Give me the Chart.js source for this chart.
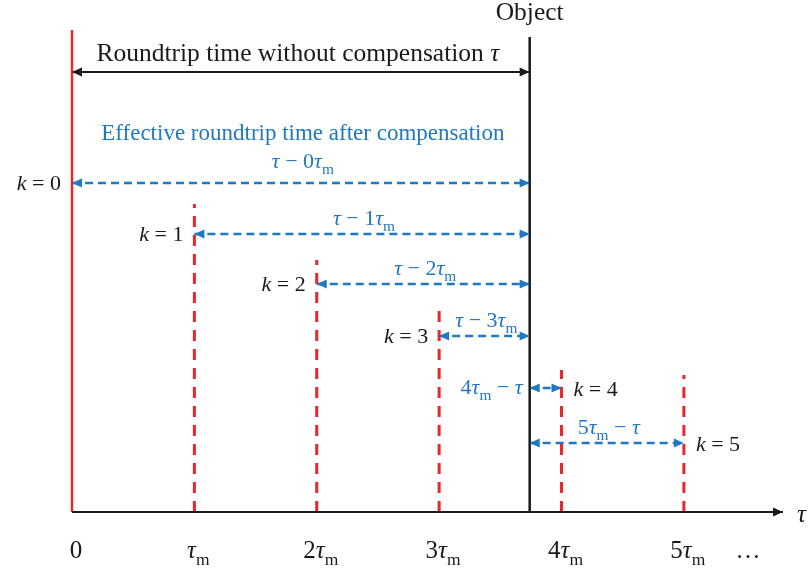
<!DOCTYPE html>
<html>
<head>
<meta charset="utf-8">
<script src="https://cdn.jsdelivr.net/npm/chart.js@4.4.0/dist/chart.umd.min.js"></script>
<style>
  html, body { margin: 0; padding: 0; background: #fff; }
  #wrap { width: 809px; height: 571px; position: relative; }
</style>
</head>
<body>
<div id="wrap"><canvas id="diagram"></canvas></div>
<script>
// time axis in units of tau_m, heights in arbitrary units above the axis
const shiftK = [0, 1, 2, 3, 4, 5];
const tauObject = 3.74;                       // roundtrip time tau / tau_m
const markerTops = [482, 308, 252, 207, 142, 137];
const arrowRows = [329, 278, 228, 176, 124, 69];
const arrowLabels = ['τ − 0τm', 'τ − 1τm', 'τ − 2τm', 'τ − 3τm', '4τm − τ', '5τm − τ'];
const kLabels = ['k = 0', 'k = 1', 'k = 2', 'k = 3', 'k = 4', 'k = 5'];
const tickValues = [0, 1, 2, 3, 4, 5];
const tickLabels = ['0', 'τm', '2τm', '3τm', '4τm', '5τm'];
const objectTop = 475;
const plainRow = 440;
const axisEnd = 5.81;

const RED = '#e8262c';
const BLUE = '#1f78c1';
const INK = '#1a1a1a';
const SERIF = "'Liberation Serif', 'Times New Roman', serif";

const datasets = [];

// time axis
datasets.push({ data: [{ x: 0, y: 0 }, { x: axisEnd, y: 0 }], borderColor: INK, borderWidth: 2.2, heads: 'end', headColor: INK });

// k = 0 reference (solid) and shifted markers (dashed)
shiftK.forEach((k, i) => {
  datasets.push({
    data: [{ x: k, y: 0 }, { x: k, y: markerTops[i] }],
    borderColor: RED, borderWidth: k === 0 ? 2.5 : 3,
    borderDash: k === 0 ? [] : [11, 8]
  });
});

// object position
datasets.push({ data: [{ x: tauObject, y: 0 }, { x: tauObject, y: objectTop }], borderColor: INK, borderWidth: 2.5 });

// roundtrip without compensation
datasets.push({ data: [{ x: 0, y: plainRow }, { x: tauObject, y: plainRow }], borderColor: INK, borderWidth: 2, heads: 'both', headColor: INK });

// effective roundtrip for each k
shiftK.forEach((k, i) => {
  datasets.push({
    data: [{ x: Math.min(k, tauObject), y: arrowRows[i] }, { x: Math.max(k, tauObject), y: arrowRows[i] }],
    borderColor: BLUE, borderWidth: 2.6, borderDash: [8, 5], heads: 'both', headColor: BLUE
  });
});

datasets.forEach(ds => {
  ds.showLine = true;
  ds.pointRadius = 0;
  ds.clip = false;
  ds.fill = false;
});

// draw text where tau and k are italic and m after tau is a subscript
function richRuns(str) {
  const runs = [];
  for (let i = 0; i < str.length; i++) {
    const c = str[i];
    let kind = 'n';
    if (c === 'τ' || c === 'k') kind = 'i';
    else if (c === 'm' && str[i - 1] === 'τ') kind = 's';
    const last = runs[runs.length - 1];
    if (last && last.kind === kind) last.text += c;
    else runs.push({ text: c, kind });
  }
  return runs;
}

function runFont(kind, size) {
  if (kind === 'i') return `italic ${size}px ${SERIF}`;
  if (kind === 's') return `${(size * 0.7).toFixed(1)}px ${SERIF}`;
  return `${size}px ${SERIF}`;
}

function drawRich(ctx, str, x, y, size, color, align) {
  const runs = richRuns(str);
  let total = 0;
  runs.forEach(r => { ctx.font = runFont(r.kind, size); r.w = ctx.measureText(r.text).width; total += r.w; });
  let cx = align === 'right' ? x - total : align === 'center' ? x - total / 2 : x;
  ctx.fillStyle = color;
  ctx.textBaseline = 'alphabetic';
  ctx.textAlign = 'left';
  runs.forEach(r => {
    ctx.font = runFont(r.kind, size);
    ctx.fillText(r.text, cx, r.kind === 's' ? y + size * 0.26 : y);
    cx += r.w;
  });
}

function arrowHead(ctx, tipX, tipY, dir, color) {
  ctx.save();
  ctx.fillStyle = color;
  ctx.beginPath();
  ctx.moveTo(tipX, tipY);
  ctx.lineTo(tipX - dir * 10, tipY - 4.5);
  ctx.lineTo(tipX - dir * 10, tipY + 4.5);
  ctx.closePath();
  ctx.fill();
  ctx.restore();
}

const diagramText = {
  id: 'diagramText',
  afterDatasetsDraw(chart) {
    const { ctx, scales: { x, y } } = chart;
    ctx.save();

    chart.data.datasets.forEach(ds => {
      if (!ds.heads) return;
      const a = ds.data[0], b = ds.data[1];
      const ax = x.getPixelForValue(a.x), bx = x.getPixelForValue(b.x);
      const py = y.getPixelForValue(a.y);
      arrowHead(ctx, bx, py, 1, ds.headColor);
      if (ds.heads === 'both') arrowHead(ctx, ax, py, -1, ds.headColor);
    });

    const objX = x.getPixelForValue(tauObject);
    const x0 = x.getPixelForValue(0);
    drawRich(ctx, 'Object', objX, y.getPixelForValue(objectTop) - 17, 25.5, INK, 'center');
    drawRich(ctx, 'Roundtrip time without compensation τ', (x0 + objX) / 2 - 3, y.getPixelForValue(plainRow) - 11, 25.5, INK, 'center');
    drawRich(ctx, 'Effective roundtrip time after compensation', (x0 + objX) / 2 + 2, y.getPixelForValue(arrowRows[0]) - 43, 23, BLUE, 'center');

    shiftK.forEach((k, i) => {
      const kx = x.getPixelForValue(k);
      const ry = y.getPixelForValue(arrowRows[i]);
      const lo = x.getPixelForValue(Math.min(k, tauObject));
      const hi = x.getPixelForValue(Math.max(k, tauObject));
      if (k < tauObject) {
        drawRich(ctx, kLabels[i], kx - 11, ry + 7, 22, INK, 'right');
      } else {
        drawRich(ctx, kLabels[i], kx + 12, ry + 8, 22, INK, 'left');
      }
      if (hi - lo < 60) {
        drawRich(ctx, arrowLabels[i], lo - 7, ry + 6, 22, BLUE, 'right');
      } else {
        drawRich(ctx, arrowLabels[i], (lo + hi) / 2 + 2, ry - (i === 0 ? 15 : 9), 22, BLUE, 'center');
      }
    });

    const axisY = y.getPixelForValue(0);
    tickValues.forEach((v, i) => {
      drawRich(ctx, tickLabels[i], x.getPixelForValue(v) + 4, axisY + 46, 25, INK, 'center');
    });
    drawRich(ctx, '…', x.getPixelForValue(5) + 64, axisY + 46, 25, INK, 'center');
    drawRich(ctx, 'τ', x.getPixelForValue(axisEnd) + 14, axisY + 10, 25, INK, 'left');

    ctx.restore();
  }
};

new Chart(document.getElementById('diagram'), {
  type: 'scatter',
  data: { datasets },
  options: {
    responsive: true,
    maintainAspectRatio: false,
    animation: false,
    layout: { padding: { left: 72, right: 26, top: 12, bottom: 59 } },
    scales: {
      x: { type: 'linear', display: false, min: 0, max: axisEnd },
      y: { type: 'linear', display: false, min: 0, max: 500 }
    },
    plugins: { legend: { display: false }, tooltip: { enabled: false } }
  },
  plugins: [diagramText]
});
</script>
</body>
</html>
